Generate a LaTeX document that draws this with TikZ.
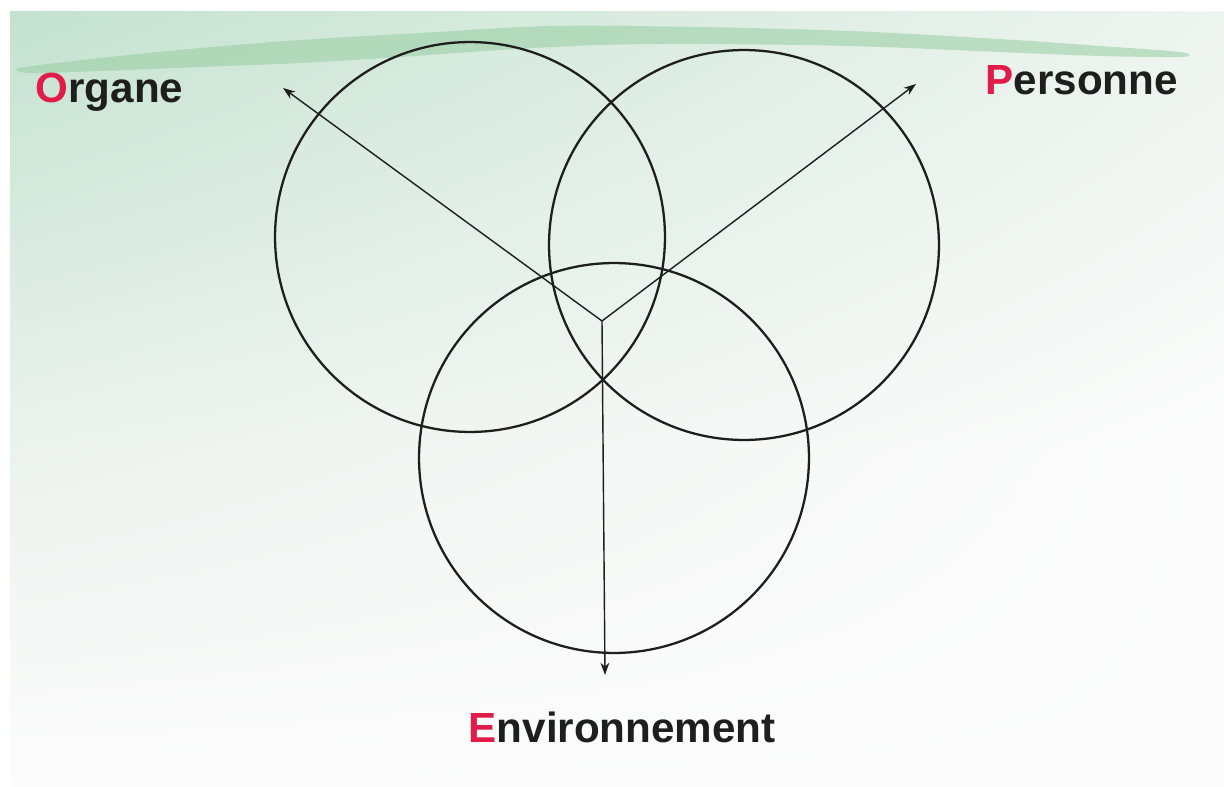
\documentclass[tikz,border=0pt]{standalone}
\usepackage{fontspec}
\setmainfont{Liberation Sans}
\usepackage{tikz}
\usetikzlibrary{arrows.meta, positioning, calc, shadings}

\definecolor{lettre}{RGB}{226,28,72}
\definecolor{encre}{RGB}{30,30,30}
\definecolor{vertA}{RGB}{196,226,208}
\definecolor{vertB}{RGB}{238,244,240}
\definecolor{vertC}{RGB}{236,242,238}
\definecolor{blanc}{RGB}{252,252,252}
\definecolor{pinceau}{RGB}{150,205,160}

\tikzset{
  cercle/.style={circle, draw=encre, line width=1.3pt, minimum size=7.8cm, inner sep=0pt},
  fleche/.style={->, encre, line width=0.8pt},
  titre/.style={anchor=base west, text=encre, font=\bfseries\fontsize{24}{28}\selectfont, inner sep=0pt}
}
\newcommand{\initiale}[1]{\textcolor{lettre}{#1}}

\begin{document}
\begin{tikzpicture}[x=0.02cm, y=-0.02cm, >={Stealth[length=7pt,width=5pt]}, thick]
          \useasboundingbox (0,0) rectangle (1224,787);
          % fond
          \shade[upper left=vertA, upper right=vertB, lower left=vertC, lower right=blanc]
            (10,12) rectangle (1224,450);
          \shade[upper left=vertC, upper right=blanc, lower left=blanc, lower right=blanc]
            (10,450) rectangle (1224,787);
          \fill[pinceau, opacity=0.55] plot[smooth cycle] coordinates
            {(20,68) (100,58) (200,48) (300,40) (420,33) (550,26) (700,27) (850,31)
             (1000,39) (1100,46) (1180,52) (1182,57) (1100,56) (1000,52) (850,46)
             (700,44) (600,45) (500,50) (400,57) (300,63) (200,67) (100,71) (30,73)};
          % cercles
          \node[cercle] (O) at (470,237) {};
          \node[cercle] (P) at (744,245) {};
          \node[cercle] (E) at (614,458) {};
          % fleches
          \coordinate (C) at (602,321);
          \coordinate (Ob) at (283,88);
          \coordinate (Pb) at (916,84);
          \coordinate (Eb) at (605,675);
          \draw[fleche] (C) -- (Ob);
          \draw[fleche] (C) -- (Pb);
          \draw[fleche] (C) -- (Eb);
          % titres
          \node[titre] (Org) at (35,103) {\initiale{O}rgane};
          \node[titre] (Per) at (985,95) {\initiale{P}ersonne};
          \node[titre] (Env) at (468,742) {\initiale{E}nvironnement};
      \end{tikzpicture}
\end{document}
